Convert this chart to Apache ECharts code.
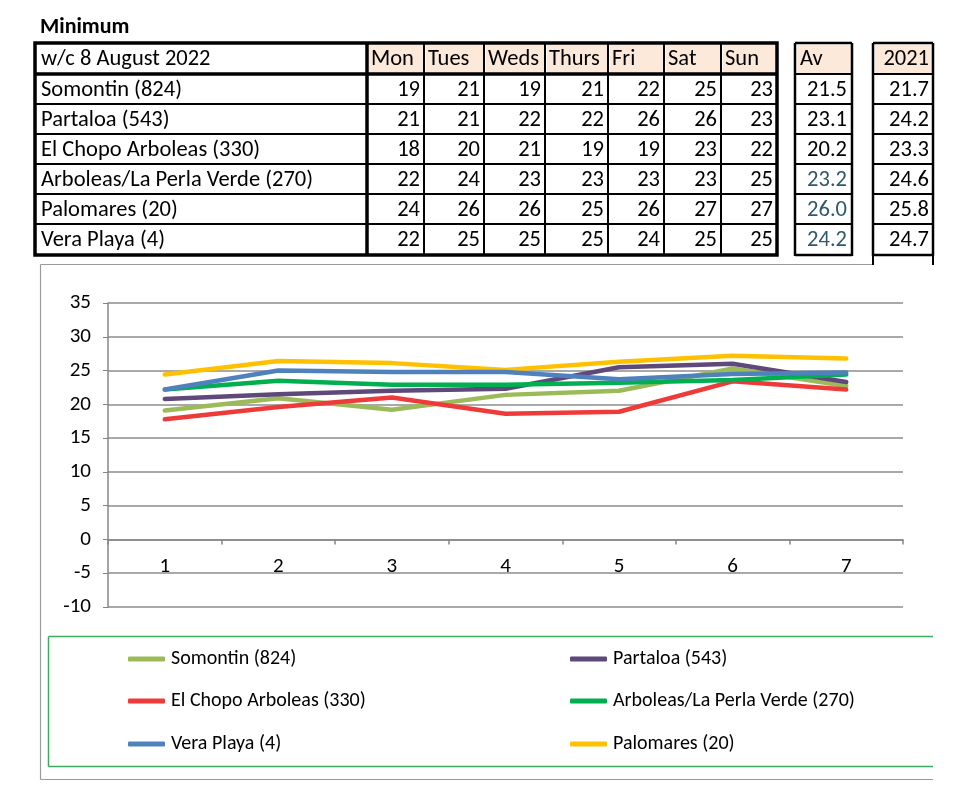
<!DOCTYPE html>
<html><head><meta charset="utf-8">
<script src="https://cdn.jsdelivr.net/npm/echarts@6/dist/echarts.min.js"></script>
<style>html,body{margin:0;padding:0;background:#fff}#c{width:975px;height:800px}</style>
</head><body><div id="c"></div>
<script>
// ---- table data ----
const tableTitle = 'Minimum';
const weekLabel = 'w/c 8 August 2022';
const days = ['Mon','Tues','Weds','Thurs','Fri','Sat','Sun'];
const stations = ['Somontin (824)','Partaloa (543)','El Chopo Arboleas (330)','Arboleas/La Perla Verde (270)','Palomares (20)','Vera Playa (4)'];
const tblSomontin = [19,21,19,21,22,25,23];
const tblPartaloa = [21,21,22,22,26,26,23];
const tblElChopo = [18,20,21,19,19,23,22];
const tblArboleas = [22,24,23,23,23,23,25];
const tblPalomares = [24,26,26,25,26,27,27];
const tblVera = [22,25,25,25,24,25,25];
const avValues = ['21.5','23.1','20.2','23.2','26.0','24.2'];
const values2021 = ['21.7','24.2','23.3','24.6','25.8','24.7'];
// ---- chart data ----
const xCategories = ['1','2','3','4','5','6','7'];
const yTicks = [-10,35,5];
const somontin = [19.1,20.9,19.2,21.4,22.0,25.3,22.7];
const partaloa = [20.8,21.5,22.0,22.3,25.5,26.0,23.3];
const elChopo = [17.8,19.6,21.0,18.6,18.9,23.4,22.2];
const arboleas = [22.2,23.5,22.9,22.9,23.2,23.6,24.4];
const palomares = [24.4,26.4,26.1,25.1,26.3,27.2,26.8];
const veraPlaya = [22.2,25.0,24.8,24.8,23.7,24.5,24.7];

const FONT = 'Carlito, Lato, "Open Sans", sans-serif';
const tableRows = [tblSomontin,tblPartaloa,tblElChopo,tblArboleas,tblPalomares,tblVera];
const colX = [35,367,424,484,545,608,664,721,777];
const rowY = [43,74,104,134,164,194,224,255];
const avX = [795,852], y21X = [873,933];
const peach = '#FDE9D9';
const TF = '22.5px ' + FONT;
const g = [];
function line(x1,y1,x2,y2,w,color,z){g.push({type:'line',shape:{x1,y1,x2,y2},style:{stroke:color||'#000',lineWidth:w},z:z||10});}
function rect(x,y,w,h,fill,stroke,lw,z){g.push({type:'rect',shape:{x,y,width:w,height:h},style:{fill:fill||'none',stroke:stroke||'none',lineWidth:lw||0},z:z||5});}
function text(t,x,y,align,color,font){g.push({type:'text',x,y,style:{text:t,fill:color||'#000',font:font||TF,textAlign:align||'left',textVerticalAlign:'middle'},z:20});}
text(tableTitle,40,27,'left','#000','bold 22px '+FONT);
// header fills
for(let i=1;i<colX.length-1;i++) rect(colX[i]+2,rowY[0]+2,colX[i+1]-colX[i]-3,rowY[1]-rowY[0]-3,peach);
rect(avX[0]+2,rowY[0]+2,avX[1]-avX[0]-3,rowY[1]-rowY[0]-3,peach);
rect(y21X[0]+2,rowY[0]+2,y21X[1]-y21X[0]-3,rowY[1]-rowY[0]-3,peach);
// main table lines
rect(colX[0],rowY[0],colX[colX.length-1]-colX[0],rowY[rowY.length-1]-rowY[0],'none','#000',3.5,10);
line(colX[0],rowY[1],colX[colX.length-1],rowY[1],3.5);
for(let r=2;r<rowY.length-1;r++) line(colX[0],rowY[r],colX[colX.length-1],rowY[r],2.2);
line(colX[1],rowY[0],colX[1],rowY[rowY.length-1],3.5);
for(let c=2;c<colX.length-1;c++) line(colX[c],rowY[0],colX[c],rowY[rowY.length-1],2);
// Av and 2021 boxes
[avX,y21X].forEach(function(bx){
  line(bx[0],rowY[0],bx[0],rowY[rowY.length-1]+1,2.5);
  line(bx[1],rowY[0],bx[1],rowY[rowY.length-1]+1,2.5);
  for(let r=0;r<rowY.length;r++) line(bx[0],rowY[r],bx[1],rowY[r],r===0||r===rowY.length-1?2.5:2);
});
line(y21X[0],rowY[rowY.length-1],y21X[0],265,2);
line(y21X[1],rowY[rowY.length-1],y21X[1],265,2);
// header texts
text(weekLabel,41,(rowY[0]+rowY[1])/2+1);
days.forEach(function(d,i){text(d,colX[i+1]+4,(rowY[0]+rowY[1])/2+1);});
text('Av',avX[0]+5,(rowY[0]+rowY[1])/2+1);
text('2021',y21X[1]-4,(rowY[0]+rowY[1])/2+1,'right');
// body texts
stations.forEach(function(s,r){
  const cy=(rowY[r+1]+rowY[r+2])/2+1;
  text(s,41,cy);
  tableRows[r].forEach(function(v,c){text(String(v),colX[c+2]-4,cy,'right');});
  text(avValues[r],avX[1]-5,cy,'right',r>=3?'#31596B':'#000');
  text(values2021[r],y21X[1]-4,cy,'right');
});
// chart frame (cropped at right like the reference) and legend box
line(40.5,264.5,873,264.5,1.2,'#9a9a9a',1);
line(40.5,264.5,40.5,779.5,1.2,'#9a9a9a',1);
line(40.5,779.5,933,779.5,1.2,'#9a9a9a',1);
line(48.5,636.5,933,636.5,1.5,'#3daa62',1);
line(48.5,636.5,48.5,766.5,1.5,'#3daa62',1);
line(48.5,766.5,933,766.5,1.5,'#3daa62',1);

const seriesDefs = [
  ['Somontin (824)',somontin,'#9BBB59'],
  ['Partaloa (543)',partaloa,'#5F497A'],
  ['El Chopo Arboleas (330)',elChopo,'#EF3A3A'],
  ['Arboleas/La Perla Verde (270)',arboleas,'#00B050'],
  ['Palomares (20)',palomares,'#FFC000'],
  ['Vera Playa (4)',veraPlaya,'#4F81BD']
];
const legendPos = {
  'Somontin (824)':[128,659],'Partaloa (543)':[570,659],
  'El Chopo Arboleas (330)':[128,701],'Arboleas/La Perla Verde (270)':[570,701],
  'Vera Playa (4)':[128,744],'Palomares (20)':[570,744]
};
const legends = Object.keys(legendPos).map(function(n){
  return {data:[n],left:legendPos[n][0],top:legendPos[n][1]-10,icon:'roundRect',itemWidth:37,itemHeight:5,itemGap:0,
    textStyle:{fontFamily:FONT,fontSize:20,color:'#000',padding:[0,0,0,1]},selectedMode:false,padding:0};
});

const chart = echarts.init(document.getElementById('c'),null,{renderer:'canvas'});
chart.setOption({
  animation:false,
  backgroundColor:'#fff',
  grid:{left:108,right:72,top:303,height:304,containLabel:false},
  xAxis:{type:'category',data:xCategories,boundaryGap:true,
    axisLine:{onZero:true,lineStyle:{color:'#868686',width:1.5}},
    axisTick:{show:true,length:5,inside:false,alignWithLabel:false,interval:0,lineStyle:{color:'#868686',width:1.5}},
    axisLabel:{margin:-51,fontFamily:FONT,fontSize:21,color:'#000',interval:0},
    splitLine:{show:false}},
  yAxis:{type:'value',min:yTicks[0],max:yTicks[1],interval:yTicks[2],
    axisLine:{show:true,lineStyle:{color:'#868686',width:1.5}},
    axisTick:{show:true,length:5,lineStyle:{color:'#868686'}},
    axisLabel:{margin:17,fontFamily:FONT,fontSize:21,color:'#000'},
    splitLine:{show:true,lineStyle:{color:'#8c8c8c',width:1.5}}},
  legend:legends,
  series:seriesDefs.map(function(d){return {name:d[0],type:'line',data:d[1],symbol:'none',color:d[2],
    lineStyle:{width:4.5,color:d[2],cap:'round',join:'round'}};}),
  graphic:g
});
</script></body></html>
